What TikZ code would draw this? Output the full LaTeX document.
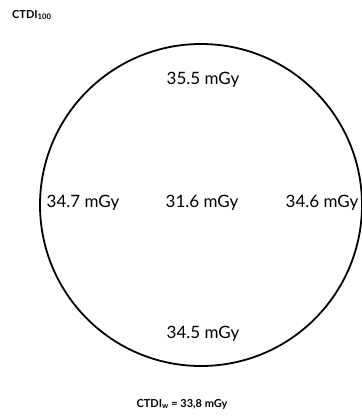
\documentclass[tikz,border=0pt]{standalone}
\usepackage{fontspec}
\setmainfont{Lato}
\begin{document}
\begin{tikzpicture}[x=1pt,y=-1pt,
  dose/.style={font=\fontsize{17}{19}\selectfont, inner sep=0pt},
  title/.style={font=\bfseries\fontsize{11}{13}\selectfont, inner sep=0pt}]
\path[use as bounding box] (0,0) rectangle (362,416);
\node[draw, circle, line width=1.8pt, minimum size=322pt, inner sep=0pt] (phantom) at (201,205) {};
\node[title, anchor=west] (top) at (12,15) {CTDI\textsubscript{100}};
\node[dose] (n) at (203,80) {35.5 mGy};
\node[dose] (w) at (83,203) {34.7 mGy};
\node[dose] (c) at (202,203) {31.6 mGy};
\node[dose] (e) at (322,203) {34.6 mGy};
\node[dose] (s) at (203,334) {34.5 mGy};
\node[title] (bot) at (182,404) {CTDI\textsubscript{w} = 33,8 mGy};
\end{tikzpicture}
\end{document}
